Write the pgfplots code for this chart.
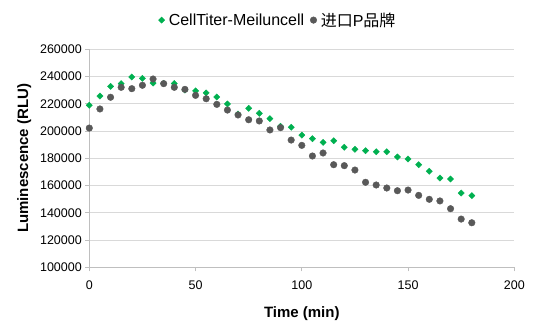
\documentclass[border=0pt]{standalone}
\usepackage{fontspec}
\setmainfont{Liberation Sans}
\newfontfamily\cjk{Noto Sans CJK SC}
\usepackage{pgfplots}
\pgfplotsset{compat=1.18}
\usepackage{pgfplotstable}
\definecolor{cgreen}{HTML}{00B050}
\definecolor{cgray}{HTML}{595959}
\definecolor{cgrid}{HTML}{D9D9D9}
\definecolor{caxis}{HTML}{BFBFBF}
\pgfplotstableread{
t v
0 218900
5 225700
10 232800
15 234800
20 239700
25 238700
30 235200
35 235000
40 234900
45 230100
50 229500
55 228000
60 225000
65 219900
70 212500
75 216700
80 213000
85 209100
90 203500
95 202800
100 197000
105 194400
110 191700
115 192900
120 188100
125 186600
130 185600
135 184800
140 184800
145 181000
150 179500
155 175300
160 170500
165 165500
170 164800
175 154500
180 152600
}\greendata
\pgfplotstableread{
t v
0 202200
5 216200
10 224800
15 232100
20 231100
25 233600
30 238200
35 234800
40 232100
45 230600
50 226200
55 223700
60 219600
65 215400
70 211800
75 208300
80 207400
85 200800
90 202500
95 193400
100 189500
105 181700
110 183900
115 175300
120 174600
125 171400
130 162400
135 160400
140 158200
145 156200
150 156700
155 152800
160 149900
165 148700
170 143000
175 135400
180 132700
}\graydata
\begin{document}
\begin{tikzpicture}
\path[use as bounding box] (0,0) rectangle (554pt,330pt);
\begin{axis}[
  at={(89.3pt,62.7pt)}, anchor=south west,
  scale only axis, width=425pt, height=218pt,
  xmin=0, xmax=200, ymin=100000, ymax=260000,
  xtick={0,50,...,200}, ytick={100000,120000,...,260000},
  axis x line*=bottom, axis y line*=left,
  axis line style={-, color=caxis, line width=0.8pt},
  tick style={color=caxis, line width=0.8pt},
  tick align=outside, major tick length=4pt,
  ymajorgrids, grid style={color=cgrid, line width=0.8pt},
  /pgf/number format/assume math mode=true,
  /pgf/number format/fixed,
  /pgf/number format/precision=0,
  /pgf/number format/1000 sep={},
  scaled y ticks=false,
  tick label style={font=\fontsize{12.5}{14}\selectfont, color=black},
  xticklabel style={yshift=-6pt},
  xlabel={\fontsize{15}{18}\selectfont\bfseries Time (min)},
  ylabel={\fontsize{15}{18}\selectfont\bfseries Luminescence (RLU)},
  xlabel style={yshift=-10pt},
  ylabel style={yshift=2pt},
  legend columns=2,
  legend style={at={(0.444,1.134)}, anchor=center, draw=none, fill=none,
    font=\fontsize{16}{19}\selectfont,
    /tikz/every odd column/.append style={column sep=2pt},
    /tikz/every even column/.append style={column sep=4pt}},
  legend cell align=left,
]
\addplot[only marks, mark=square*, mark size=2.2pt, mark options={rotate=45}, color=cgreen] table[x=t,y=v] {\greendata};
\addlegendentry{CellTiter-Meiluncell}
\addplot[only marks, mark=*, mark size=3.3pt, color=cgray] table[x=t,y=v] {\graydata};
\addlegendentry{{\cjk 进口}P{\cjk 品牌}}
\end{axis}
\end{tikzpicture}
\end{document}
